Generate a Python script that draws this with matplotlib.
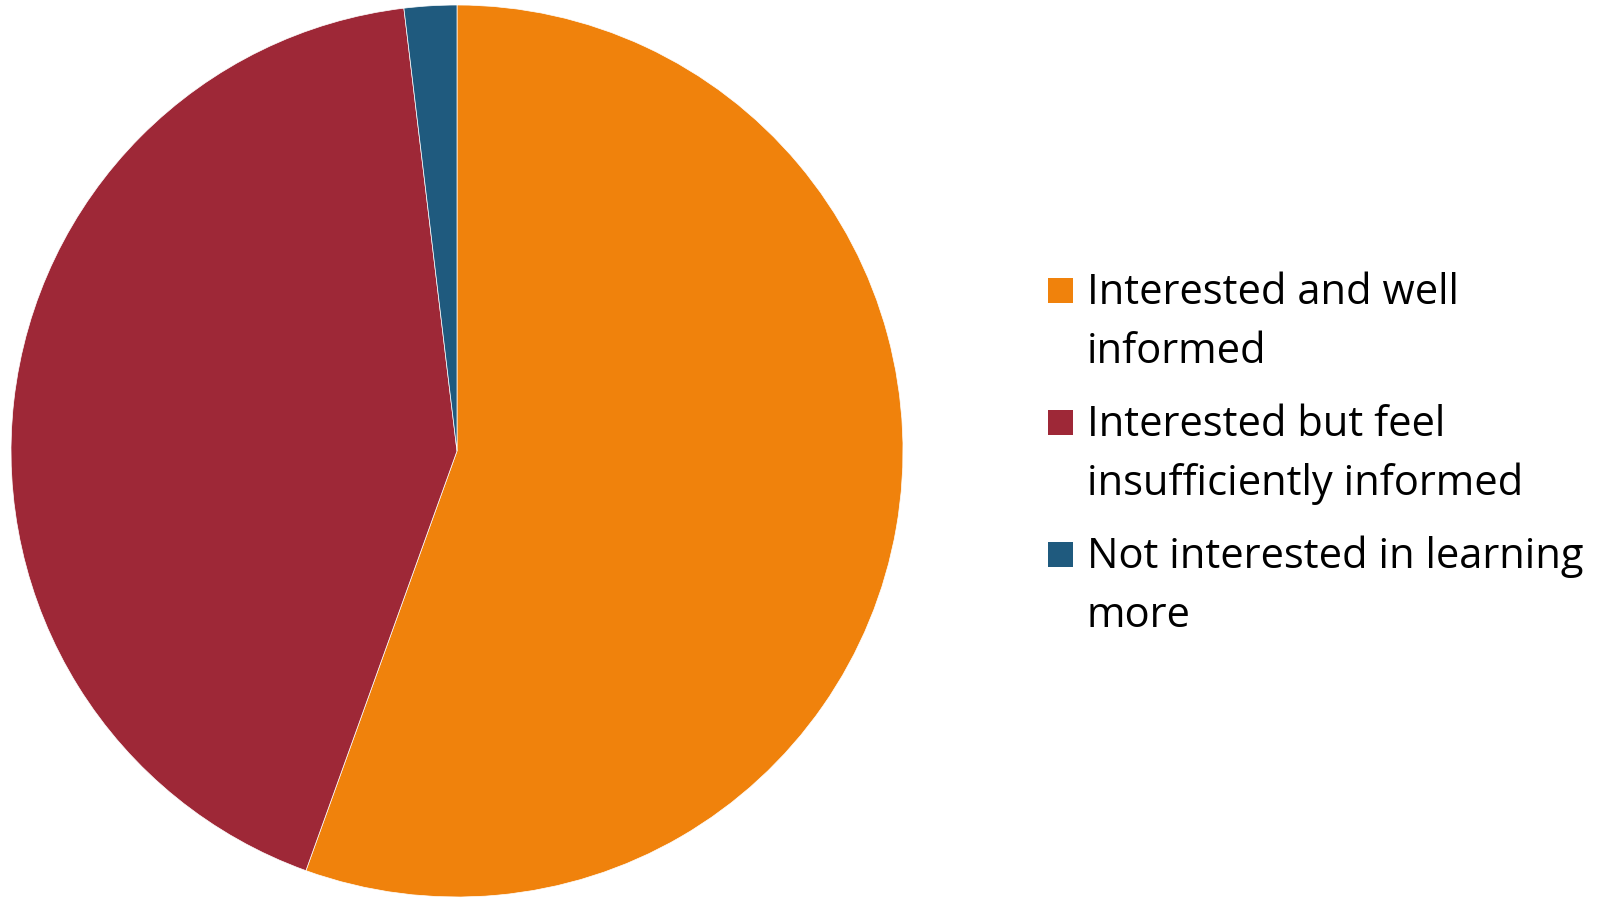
import matplotlib
matplotlib.use("Agg")
import matplotlib.pyplot as plt
from matplotlib.patches import Rectangle

# survey answers, share of respondents (%)
labels = ["Interested and well\ninformed",
          "Interested but feel\ninsufficiently informed",
          "Not interested in learning\nmore"]
shares = [55.5, 42.6, 1.9]
colors = ["#F0820C", "#9E2837", "#1F5A7E"]

W, H = 1602, 898
fig = plt.figure(figsize=(W / 100, H / 100), dpi=100)
fig.patch.set_facecolor("white")

# pie: centre (457, 451) px, radius 446 px
cx, cy, r = 457, 451, 446
ax = fig.add_axes([(cx - r) / W, (H - cy - r) / H, 2 * r / W, 2 * r / H])
ax.pie(shares, colors=colors, startangle=90, counterclock=False,
       wedgeprops=dict(edgecolor="white", linewidth=0.5))
ax.set_xlim(-1, 1)
ax.set_ylim(-1, 1)
ax.set_aspect("equal")

# legend drawn by hand so the swatch sits on the first line of each label
FONT = "Open Sans"
SIZE = 30
SQ = 25
for i, (lab, c) in enumerate(zip(labels, colors)):
    top = 278 + i * 132
    fig.patches.append(Rectangle((1048 / W, 1 - (top + SQ) / H), SQ / W, SQ / H,
                                 transform=fig.transFigure, facecolor=c,
                                 edgecolor="none"))
    for j, line in enumerate(lab.split("\n")):
        base = 304 + i * 132 + j * 59
        fig.text(1087 / W, 1 - base / H, line, ha="left", va="baseline",
                 fontsize=SIZE, family=FONT, color="black")

fig.savefig("out.png", dpi=100, facecolor="white")
